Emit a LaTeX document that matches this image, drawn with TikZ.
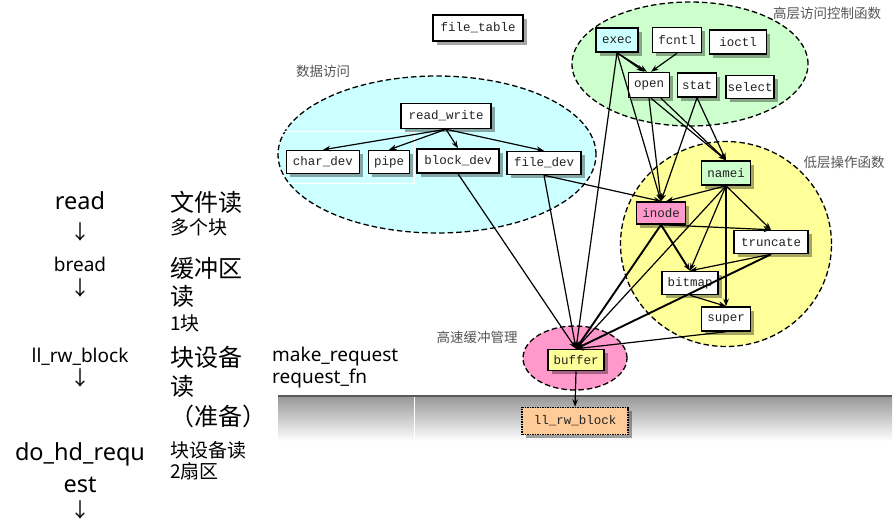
\documentclass[tikz,border=0pt]{standalone}
\usepackage{fontspec}
\setmainfont{Noto Sans}
\newfontfamily\cjk{Noto Sans CJK SC}
\newfontfamily\mono{Liberation Mono}
\usetikzlibrary{arrows.meta,shadows}
\definecolor{cyanfill}{HTML}{CCFFFF}
\definecolor{greenfill}{HTML}{CCFFCC}
\definecolor{yellowfill}{HTML}{FFFF99}
\definecolor{pinkfill}{HTML}{FF99CC}
\definecolor{orangefill}{HTML}{FFCC99}
\definecolor{labelgray}{HTML}{555555}
\definecolor{boxtext}{HTML}{222222}
\begin{document}
\begin{tikzpicture}[x=1pt,y=-1pt,
  fb/.style={draw=black,line width=1.5pt,fill=white,font=\mono\fontsize{12.5}{12.5}\selectfont,text=boxtext,inner sep=0pt,minimum height=24pt,
    drop shadow={shadow xshift=3.5pt,shadow yshift=-3.5pt,fill=black,opacity=0.35}},
  grp/.style={draw=black,line width=1.3pt,dash pattern=on 5.5pt off 3pt},
  ed/.style={draw,line width=1.2pt,-{Stealth[length=7.5pt,width=5.5pt]}},
  edt/.style={ed,line width=1.9pt},
  lbl/.style={font=\cjk\fontsize{13.5}{13.5}\selectfont,text=labelgray,inner sep=1pt},
  ltbig/.style={font=\fontsize{23.5}{23.5}\selectfont,inner sep=0pt},
  ltsmall/.style={font=\fontsize{19}{19}\selectfont,inner sep=0pt},
  cbig/.style={font=\cjk\fontsize{24}{24}\selectfont,inner sep=0pt,anchor=west},
  csmall/.style={font=\cjk\fontsize{19}{19}\selectfont,inner sep=0pt,anchor=west},
  darr/.style={font=\cjk\fontsize{20}{20}\selectfont,inner sep=0pt}
]
\useasboundingbox (0,0) rectangle (896,531);
\fill[white] (0,0) rectangle (896,531);

% groups
\draw[grp,fill=cyanfill] (437,154.5) ellipse [x radius=159pt,y radius=78.5pt];
\draw[white,line width=1pt] (278,131) -- (414,131) -- (414,183) -- (278,183);
\draw[grp,fill=greenfill] (690,64) ellipse [x radius=118pt,y radius=62pt];
\draw[grp,fill=yellowfill] (726,244) ellipse [x radius=105.5pt,y radius=102.5pt];
\draw[grp,fill=pinkfill] (575,358) ellipse [x radius=52pt,y radius=32pt];

% band
\shade[top color=black!40,bottom color=white] (278,397) rectangle (892,441);
\draw[line width=1.6pt,black!65] (278,396) -- (892,396);
\draw[white,line width=1pt] (414,397) -- (414,441);

% boxes
\node[fb,minimum width=90pt,minimum height=26pt] (filetable) at (478,28) {file\_table};
\node[fb,minimum width=90pt,minimum height=25pt] (rw) at (446,116) {read\_write};
\node[fb,minimum width=73pt,minimum height=23pt] (chardev) at (323,162) {char\_dev};
\node[fb,minimum width=41pt,minimum height=23pt] (pipe) at (389,162) {pipe};
\node[fb,minimum width=82pt] (blockdev) at (458,161) {block\_dev};
\node[fb,minimum width=74pt,minimum height=23pt] (filedev) at (544,163) {file\_dev};
\node[fb,fill=cyanfill,minimum width=42pt] (exec) at (617,40) {exec};
\node[fb,minimum width=49pt,minimum height=25pt] (fcntl) at (677,40) {fcntl};
\node[fb,minimum width=57pt] (ioctl) at (738,42) {ioctl};
\node[fb,minimum width=41pt,minimum height=25pt] (open) at (649,85) {open};
\node[fb,minimum width=39pt] (stat) at (697,85) {stat};
\node[fb,minimum width=48pt,minimum height=23pt] (select) at (750,87) {select};
\node[fb,fill=greenfill,minimum width=49pt] (namei) at (726,173) {namei};
\node[fb,fill=pinkfill,minimum width=49pt,minimum height=22pt] (inode) at (661,213) {inode};
\node[fb,minimum width=74pt,minimum height=23pt] (truncate) at (771,242) {truncate};
\node[fb,minimum width=56pt,minimum height=23pt] (bitmap) at (690,283) {bitmap};
\node[fb,minimum width=49pt] (super) at (726,319) {super};
\node[fb,fill=yellowfill,minimum width=56pt,minimum height=21pt] (buffer) at (576,360) {buffer};
\node[fb,fill=orangefill,densely dotted,minimum width=106pt,minimum height=27pt] (llrw) at (575,421) {ll\_rw\_block};

% group labels
\node[lbl] (lbdata) at (323,71) {数据访问};
\node[lbl] (lbhigh) at (827,13) {高层访问控制函数};
\node[lbl,fill=white] (lblow) at (844,162) {低层操作函数};
\node[lbl] (lbbuf) at (477,337) {高速缓冲管理};

% edges
\draw[ed] (rw.south) -- (chardev.north);
\draw[ed] (rw.south) -- (pipe.north);
\draw[ed] (rw.south) -- (blockdev.north);
\draw[ed] (rw.south) -- (filedev.north);
\draw[ed] (blockdev.south) -- (buffer.north);
\draw[ed] (filedev.south) -- (buffer.north);
\draw[ed] (filedev.south) -- (inode.north);
\draw[ed] (exec.south) -- ([xshift=-5pt]open.north);
\draw[ed] (exec.south) -- ([xshift=-2pt]open.north);
\draw[ed] (fcntl.south) -- ([xshift=2pt]open.north);
\draw[ed] (exec.south) -- (inode.north);
\draw[ed] (exec.south) -- (buffer.north);
\draw[ed] (open.south) -- (inode.north);
\draw[ed] ([xshift=2pt]open.south) -- (namei.north);
\draw[ed] ([xshift=12pt]open.south) -- (namei.north);
\draw[ed] (stat.south) -- (inode.north);
\draw[ed] (stat.south) -- (namei.north);
\draw[ed] (namei.south) -- ([xshift=5pt]inode.north);
\draw[ed] (namei.south) -- (truncate.north);
\draw[ed] (namei.south) -- (bitmap.north);
\draw[ed] (namei.south) -- (super.north);
\draw[ed] (namei.south) -- (buffer.north);
\draw[edt] (inode.south) -- (buffer.north);
\draw[edt] (inode.south) -- (bitmap.north);
\draw[ed] (inode.south) -- (truncate.north);
\draw[ed] (truncate.south) -- (bitmap.north);
\draw[edt] (truncate.south) -- (buffer.north);
\draw[ed] (bitmap.south) -- (super.north);
\draw[ed] (super.south) -- (buffer.north);
\draw[ed] (buffer.south) -- (llrw.north);

% left column
\node[ltbig,anchor=base] (tread) at (80,209) {read};
\node[darr] (a1) at (80,232) {↓};
\node[ltsmall,anchor=base] (tbread) at (80,271) {bread};
\node[darr] (a2) at (80,288) {↓};
\node[ltsmall,anchor=base] (tll) at (80,362) {ll\_rw\_block};
\node[darr] (a3) at (80,378) {↓};
\node[ltbig,anchor=base] (tdo) at (80,460) {do\_hd\_requ};
\node[ltbig,anchor=base] (test) at (80,492) {est};
\node[darr] (a4) at (80,510) {↓};

\node[cbig] (c1) at (170,202) {文件读};
\node[csmall] (c2) at (170,227) {多个块};
\node[cbig] (c3) at (170,268) {缓冲区};
\node[cbig] (c4) at (170,296) {读};
\node[csmall] (c5) at (170,323) {1块};
\node[cbig] (c6) at (170,357) {块设备};
\node[cbig] (c7) at (170,386) {读};
\node[cbig] (c8) at (170,416) {（准备）};
\node[csmall] (c9) at (170,450) {块设备读};
\node[csmall] (c10) at (170,471) {2扇区};

\node[ltsmall,anchor=base west] (mr) at (272,361) {make\_request};
\node[ltsmall,anchor=base west] (rf) at (272,383) {request\_fn};
\end{tikzpicture}
\end{document}
